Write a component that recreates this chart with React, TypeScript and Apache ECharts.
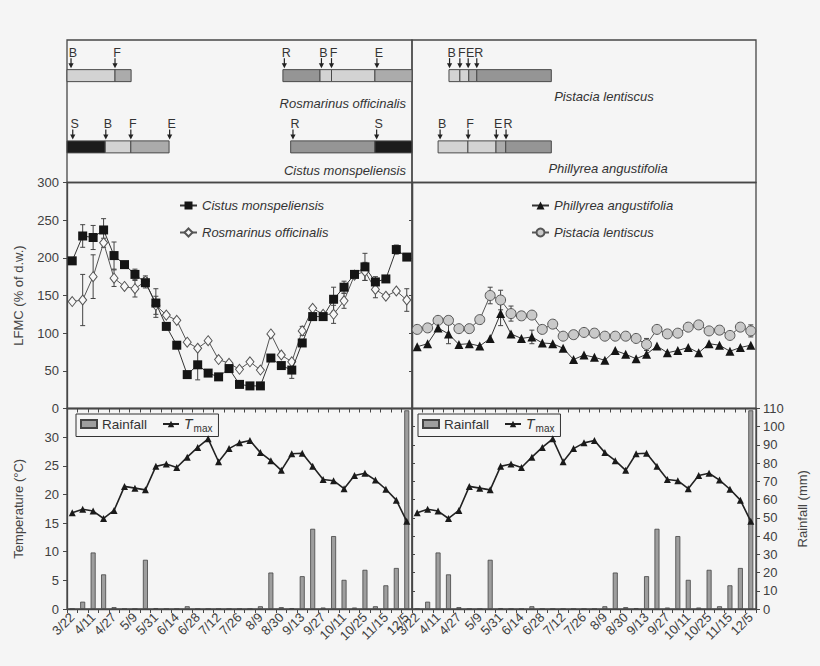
import React, { useEffect, useRef } from 'react';
import * as echarts from 'echarts';

// ---------- data ----------
const categories = ['3/22','4/1','4/11','4/19','4/27','5/3','5/9','5/20','5/31','6/7','6/14','6/21','6/28','7/5','7/12','7/19','7/26','8/2','8/9','8/19','8/30','9/6','9/13','9/20','9/27','10/4','10/11','10/18','10/25','11/4','11/15','11/25','12/5'];

const cistus = [196,229,227,237,203,191,178,167,140,109,84,45,58,47,42,53,32,30,30,67,57,51,87,122,122,145,161,178,188,168,172,211,201];
const cistusErr = [0,15,16,15,18,0,7,7,19,0,0,0,20,0,0,5,0,0,0,0,0,11,0,0,0,16,8,0,18,7,0,6,0];
const rosmarinus = [142,144,175,220,173,162,159,169,137,124,117,88,80,90,65,60,52,62,51,99,71,62,103,133,125,125,143,177,182,158,149,156,144];
const rosmarinusErr = [0,34,29,6,11,0,11,7,12,0,0,0,0,0,0,0,0,0,0,0,0,0,6,0,0,12,10,0,12,11,0,0,15];
const phillyrea = [82,86,107,99,85,86,83,93,126,99,93,95,87,86,80,65,71,68,64,77,72,66,72,83,74,77,81,74,86,84,76,81,84];
const phillyreaErr = [0,0,0,13,0,0,0,0,16,0,0,9,0,0,0,0,0,0,0,0,0,0,0,0,0,0,0,0,0,0,0,0,0];
const pistacia = [105,107,117,117,106,106,118,150,144,126,123,124,105,112,96,98,101,100,96,96,96,93,85,105,99,100,108,111,103,104,97,108,103];
const pistaciaErr = [0,0,0,0,0,0,0,11,13,10,0,0,0,0,0,0,0,0,0,0,0,0,8,0,0,0,0,0,0,0,0,0,8];

const tmax = [16.8,17.4,17.1,15.8,17.2,21.4,21.1,20.8,24.9,25.3,24.7,26.5,28.2,29.7,25.7,28.0,29.0,29.4,27.3,25.9,24.2,27.1,27.2,24.9,22.6,22.4,21.0,23.3,23.7,22.5,20.9,19.0,15.3];
const rainfall = [0,4,31,19,1,0,0,27,0.5,0,0,1.5,0,0,0,0,0,0,1.5,20,1,0.5,18,44,0.8,40,16,0.8,21.5,1.5,13,22.5,109];

// phenology (position along the year, in months 0-12)
const shadeNames = ['light','mid','dark','black'];
const rosmarinusPhases: [number, number, string][] = [[0,1.67,'light'],[1.67,2.23,'mid'],[7.51,8.8,'dark'],[8.8,9.2,'light'],[9.2,10.71,'light'],[10.71,12,'mid']];
const cistusPhases: [number, number, string][] = [[0,1.33,'black'],[1.33,2.22,'light'],[2.22,3.55,'mid'],[7.78,10.71,'dark'],[10.71,12,'black']];
const pistaciaPhases: [number, number, string][] = [[1.29,1.67,'light'],[1.67,1.98,'light'],[1.98,2.26,'mid'],[2.26,4.86,'dark']];
const phillyreaPhases: [number, number, string][] = [[0.91,1.95,'light'],[1.95,2.93,'light'],[2.93,3.27,'mid'],[3.27,4.86,'dark']];

const rosmarinusEvents: [string, number][] = [['B',0.14],['F',1.67],['R',7.56],['B',8.85],['F',9.2],['E',10.78]];
const cistusEvents: [string, number][] = [['S',0.2],['B',1.35],['F',2.22],['E',3.57],['R',7.86],['S',10.77]];
const pistaciaEvents: [string, number][] = [['B',1.31],['F',1.67],['E',1.96],['R',2.26]];
const phillyreaEvents: [string, number][] = [['B',0.98],['F',1.96],['E',2.94],['R',3.28]];

// ---------- styles ----------
const BG = '#f5f5f5';
const FONT = 'Liberation Sans';
const INK = '#333';
const AXIS = '#474747';
const SHADES: Record<string, string> = { light: '#d3d3d3', mid: '#ababab', dark: '#959595', black: '#1c1c1c' };

const GL = 67, GWL = 345, GR = 412, GWR = 344;
const TPH = 40, HPH = 142.5, TLF = 182.5, HLF = 226, TBT = 408.5, HBT = 200.5;

function phaseData(rows: [number, number, string][][]) {
  const out: number[][] = [];
  rows.forEach((r, ri) => r.forEach(([s, e, sh]) => out.push([s, e, ri, shadeNames.indexOf(sh)])));
  return out;
}
function eventData(rows: [string, number][][]) {
  const vals: number[][] = [];
  const letters: string[] = [];
  rows.forEach((r, ri) => r.forEach(([l, p]) => { vals.push([p, ri]); letters.push(l); }));
  return { vals, letters };
}

function phaseSeries(xi: number, rows: [number, number, string][][]) {
  return {
    type: 'custom', xAxisIndex: xi, yAxisIndex: xi, silent: true,
    encode: { x: [0, 1], y: 2 },
    data: phaseData(rows),
    renderItem: (params: any, api: any) => {
      const p0 = api.coord([api.value(0), api.value(2)]);
      const p1 = api.coord([api.value(1), api.value(2)]);
      return {
        type: 'rect',
        shape: { x: p0[0], y: p0[1] - 6, width: p1[0] - p0[0], height: 12 },
        style: { fill: SHADES[shadeNames[api.value(3)]], stroke: '#4a4a4a', lineWidth: 1 },
      };
    },
  };
}
function eventSeries(xi: number, rows: [string, number][][]) {
  const { vals, letters } = eventData(rows);
  return {
    type: 'custom', xAxisIndex: xi, yAxisIndex: xi, silent: true, z: 5,
    encode: { x: 0, y: 1 },
    data: vals,
    renderItem: (params: any, api: any) => {
      const p = api.coord([api.value(0), api.value(1)]);
      const x = p[0], y = p[1];
      return {
        type: 'group',
        children: [
          { type: 'text', style: { text: letters[params.dataIndex], x: x + 2, y: y - 23, align: 'center', verticalAlign: 'middle', fontSize: 12.5, fontFamily: FONT, fill: INK } },
          { type: 'line', shape: { x1: x, y1: y - 17.5, x2: x, y2: y - 11 }, style: { stroke: '#222', lineWidth: 1.2 } },
          { type: 'polygon', shape: { points: [[x - 2.6, y - 12.5], [x + 2.6, y - 12.5], [x, y - 7.5]] }, style: { fill: '#222' } },
        ],
      };
    },
  };
}
function errSeries(xi: number, vals: number[], errs: number[]) {
  return {
    type: 'custom', xAxisIndex: xi, yAxisIndex: xi, silent: true, z: 1,
    encode: { x: 0, y: 1 },
    data: vals.map((v, i) => [i, v, errs[i]]).filter((d) => d[2] > 0),
    renderItem: (params: any, api: any) => {
      const i = api.value(0), v = api.value(1), e = api.value(2);
      const t = api.coord([i, v + e]);
      const b = api.coord([i, v - e]);
      const st = { stroke: '#444', lineWidth: 1 };
      return {
        type: 'group',
        children: [
          { type: 'line', shape: { x1: t[0], y1: t[1], x2: b[0], y2: b[1] }, style: st },
          { type: 'line', shape: { x1: t[0] - 2.5, y1: t[1], x2: t[0] + 2.5, y2: t[1] }, style: st },
          { type: 'line', shape: { x1: b[0] - 2.5, y1: b[1], x2: b[0] + 2.5, y2: b[1] }, style: st },
        ],
      };
    },
  };
}

const lbl = { fontSize: 13, color: '#404040', fontFamily: FONT };
const axLine = { show: true, lineStyle: { color: AXIS, width: 1.3 } };

function catAxis(gridIndex: number, labels: boolean) {
  return {
    type: 'category', gridIndex, data: categories, boundaryGap: true,
    axisLine: axLine,
    axisTick: { show: true, interval: 0, length: 4, lineStyle: { color: AXIS } },
    axisLabel: labels ? { ...lbl, show: true, interval: 1, rotate: 45, margin: 6 } : { show: false, interval: 0 },
    splitLine: { show: false },
  };
}

const legendText = { fontStyle: 'italic', fontSize: 13, color: INK, fontFamily: FONT };
const rainLegend = (left: number) => ({
  data: [{ name: 'Rainfall', icon: 'rect' }, { name: 'Tmax' }],
  left, top: 414, orient: 'horizontal', selectedMode: false,
  borderColor: '#333', borderWidth: 1, borderRadius: 0, padding: [3, 6, 3, 4],
  itemGap: 15, itemWidth: 16, itemHeight: 8,
  formatter: (n: string) => (n === 'Tmax' ? '{i|T}{s|max}' : n),
  textStyle: {
    fontSize: 13.5, color: INK, fontFamily: FONT,
    rich: {
      i: { fontStyle: 'italic', fontSize: 14, fontFamily: FONT, color: INK },
      s: { fontSize: 10, fontFamily: FONT, color: INK, padding: [9, 0, 0, 1] },
    },
  },
});

const lineBase = { showSymbol: true, showAllSymbol: true };

const option: any = {
  animation: false,
  backgroundColor: BG,
  textStyle: { fontFamily: FONT },
  grid: [
    { left: GL, top: TPH, width: GWL, height: HPH },
    { left: GR, top: TPH, width: GWR, height: HPH },
    { left: GL, top: TLF, width: GWL, height: HLF },
    { left: GR, top: TLF, width: GWR, height: HLF },
    { left: GL, top: TBT, width: GWL, height: HBT },
    { left: GR, top: TBT, width: GWR, height: HBT },
  ].map((g) => ({ ...g, show: true, borderColor: AXIS, borderWidth: 1.3, backgroundColor: 'transparent', containLabel: false })),
  xAxis: [
    { type: 'value', gridIndex: 0, min: 0, max: 12, show: false },
    { type: 'value', gridIndex: 1, min: 0, max: 12, show: false },
    catAxis(2, false),
    catAxis(3, false),
    catAxis(4, true),
    catAxis(5, true),
  ],
  yAxis: [
    { type: 'category', gridIndex: 0, data: ['Rosmarinus officinalis', 'Cistus monspeliensis'], inverse: true, show: false },
    { type: 'category', gridIndex: 1, data: ['Pistacia lentiscus', 'Phillyrea angustifolia'], inverse: true, show: false },
    {
      type: 'value', gridIndex: 2, min: 0, max: 300, interval: 50,
      name: 'LFMC (% of d.w.)', nameLocation: 'middle', nameGap: 42,
      nameTextStyle: { fontSize: 13, color: '#444', fontFamily: FONT },
      axisLine: axLine, axisTick: { show: true, length: 4, lineStyle: { color: AXIS } },
      axisLabel: { ...lbl, margin: 8 }, splitLine: { show: false },
    },
    { type: 'value', gridIndex: 3, min: 0, max: 300, interval: 50, axisLine: axLine, axisTick: { show: false }, axisLabel: { show: false }, splitLine: { show: false } },
    { type: 'value', gridIndex: 2, position: 'right', min: 0, max: 300, interval: 50, axisLine: axLine, axisTick: { show: true, inside: true, length: 3, lineStyle: { color: AXIS } }, axisLabel: { show: false }, splitLine: { show: false } },
    {
      type: 'value', gridIndex: 4, min: 0, max: 35, interval: 5,
      name: 'Temperature (°C)', nameLocation: 'middle', nameGap: 42,
      nameTextStyle: { fontSize: 13, color: '#444', fontFamily: FONT },
      axisLine: axLine, axisTick: { show: true, length: 4, lineStyle: { color: AXIS } },
      axisLabel: { ...lbl, margin: 8, formatter: (v: number) => (v === 35 ? '' : String(v)) }, splitLine: { show: false },
    },
    { type: 'value', gridIndex: 4, position: 'right', min: 0, max: 110, interval: 10, axisLine: axLine, axisTick: { show: true, length: 3, lineStyle: { color: AXIS } }, axisLabel: { show: false }, splitLine: { show: false } },
    { type: 'value', gridIndex: 5, min: 0, max: 35, interval: 5, show: false },
    {
      type: 'value', gridIndex: 5, position: 'right', min: 0, max: 110, interval: 10,
      name: 'Rainfall (mm)', nameLocation: 'middle', nameGap: 40, nameRotate: 90,
      nameTextStyle: { fontSize: 13, color: '#444', fontFamily: FONT },
      axisLine: axLine, axisTick: { show: true, length: 4, lineStyle: { color: AXIS } },
      axisLabel: { ...lbl, margin: 7 }, splitLine: { show: false },
    },
  ],
  legend: [
    { data: ['Cistus monspeliensis', 'Rosmarinus officinalis'], orient: 'vertical', left: 179, top: 199, padding: 0, itemWidth: 17, itemHeight: 10, itemGap: 14, selectedMode: false, textStyle: legendText },
    { data: ['Phillyrea angustifolia', 'Pistacia lentiscus'], orient: 'vertical', left: 531, top: 199, padding: 0, itemWidth: 17, itemHeight: 10, itemGap: 14, selectedMode: false, textStyle: legendText },
    rainLegend(76),
    rainLegend(418),
  ],
  graphic: [
    { type: 'text', x: 406, y: 103, style: { text: 'Rosmarinus officinalis', align: 'right', verticalAlign: 'middle', fontSize: 13, fontStyle: 'italic', fontFamily: FONT, fill: INK } },
    { type: 'text', x: 406, y: 170, style: { text: 'Cistus monspeliensis', align: 'right', verticalAlign: 'middle', fontSize: 13, fontStyle: 'italic', fontFamily: FONT, fill: INK } },
    { type: 'text', x: 604, y: 96, style: { text: 'Pistacia lentiscus', align: 'center', verticalAlign: 'middle', fontSize: 13, fontStyle: 'italic', fontFamily: FONT, fill: INK } },
    { type: 'text', x: 608, y: 168, style: { text: 'Phillyrea angustifolia', align: 'center', verticalAlign: 'middle', fontSize: 13, fontStyle: 'italic', fontFamily: FONT, fill: INK } },
  ],
  series: [
    phaseSeries(0, [rosmarinusPhases, cistusPhases]),
    eventSeries(0, [rosmarinusEvents, cistusEvents]),
    phaseSeries(1, [pistaciaPhases, phillyreaPhases]),
    eventSeries(1, [pistaciaEvents, phillyreaEvents]),

    errSeries(2, cistus, cistusErr),
    errSeries(2, rosmarinus, rosmarinusErr),
    errSeries(3, phillyrea, phillyreaErr),
    errSeries(3, pistacia, pistaciaErr),

    { ...lineBase, name: 'Cistus monspeliensis', type: 'line', xAxisIndex: 2, yAxisIndex: 2, data: cistus, z: 4,
      symbol: 'rect', symbolSize: 9, itemStyle: { color: '#151515' }, lineStyle: { color: '#333', width: 1 } },
    { ...lineBase, name: 'Rosmarinus officinalis', type: 'line', xAxisIndex: 2, yAxisIndex: 2, data: rosmarinus, z: 3,
      symbol: 'diamond', symbolSize: [8, 10], itemStyle: { color: '#f8f8f8', borderColor: '#555', borderWidth: 1 }, lineStyle: { color: '#555', width: 1 } },
    { ...lineBase, name: 'Phillyrea angustifolia', type: 'line', xAxisIndex: 3, yAxisIndex: 3, data: phillyrea, z: 4,
      symbol: 'triangle', symbolSize: 9, itemStyle: { color: '#151515' }, lineStyle: { color: '#333', width: 1 } },
    { ...lineBase, name: 'Pistacia lentiscus', type: 'line', xAxisIndex: 3, yAxisIndex: 3, data: pistacia, z: 3,
      symbol: 'circle', symbolSize: 10, itemStyle: { color: '#c9c9c9', borderColor: '#555', borderWidth: 1 }, lineStyle: { color: '#555', width: 1 } },

    { name: 'Rainfall', type: 'bar', xAxisIndex: 4, yAxisIndex: 6, data: rainfall, barWidth: 5, z: 2,
      itemStyle: { color: '#9e9e9e', borderColor: '#444', borderWidth: 0.8 } },
    { ...lineBase, name: 'Tmax', type: 'line', xAxisIndex: 4, yAxisIndex: 5, data: tmax, z: 4,
      symbol: 'triangle', symbolSize: 7, itemStyle: { color: '#1a1a1a' }, lineStyle: { color: '#222', width: 1.6 } },
    { name: 'Rainfall', type: 'bar', xAxisIndex: 5, yAxisIndex: 8, data: rainfall, barWidth: 5, z: 2,
      itemStyle: { color: '#9e9e9e', borderColor: '#444', borderWidth: 0.8 } },
    { ...lineBase, name: 'Tmax', type: 'line', xAxisIndex: 5, yAxisIndex: 7, data: tmax, z: 4,
      symbol: 'triangle', symbolSize: 7, itemStyle: { color: '#1a1a1a' }, lineStyle: { color: '#222', width: 1.6 } },
  ],
};

export default function App() {
  const ref = useRef<HTMLDivElement>(null);
  useEffect(() => {
    const chart = echarts.init(ref.current!, undefined, { renderer: 'svg' });
    chart.setOption(option);
    return () => chart.dispose();
  }, []);
  return <div ref={ref} style={{ position: 'absolute', left: 0, top: 0, width: 820, height: 666, background: BG }} />;
}
